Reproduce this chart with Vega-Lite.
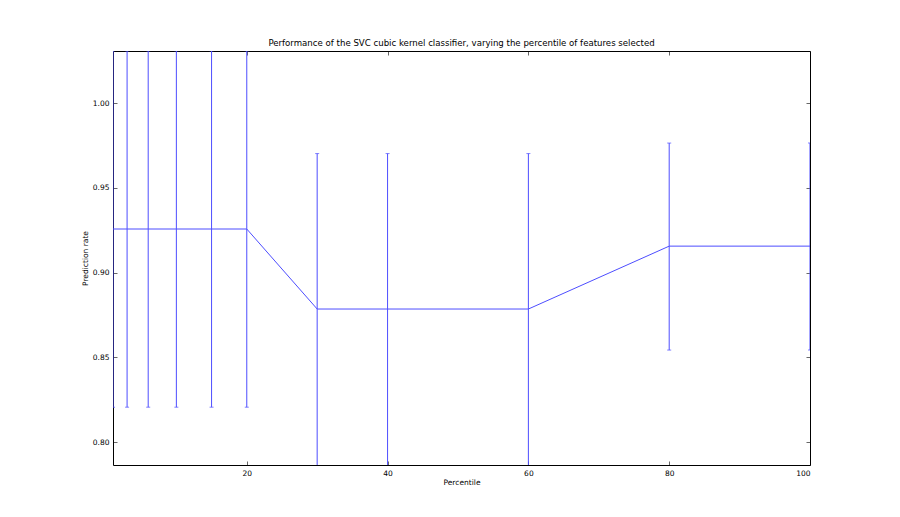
{
  "$schema": "https://vega.github.io/schema/vega-lite/v6.json",
  "autosize": "none",
  "width": 697,
  "height": 414,
  "padding": {"left": 113, "top": 51, "right": 90, "bottom": 52},
  "background": "white",
  "config": {
    "view": {"stroke": "#000000", "strokeWidth": 1},
    "font": "DejaVu Sans",
    "axis": {"grid": false, "domain": false, "labelFont": "DejaVu Sans", "labelFontSize": 7.5, "labelColor": "#000000", "titleFont": "DejaVu Sans", "titleFontSize": 7.5, "titleFontWeight": "normal", "titleColor": "#000000", "tickColor": "#000000", "tickSize": -4, "tickWidth": 0.6}
  },
  "title": {"text": "Performance of the SVC cubic kernel classifier, varying the percentile of features selected", "font": "DejaVu Sans", "fontSize": 8.6, "fontWeight": "normal", "color": "#000000", "anchor": "middle", "offset": 3},
  "data": {"values": [
    {"percentile": 1, "mean": 0.9257, "lower": 0.8206, "upper": 1.0308},
    {"percentile": 3, "mean": 0.9257, "lower": 0.8206, "upper": 1.0308},
    {"percentile": 6, "mean": 0.9257, "lower": 0.8206, "upper": 1.0308},
    {"percentile": 10, "mean": 0.9257, "lower": 0.8206, "upper": 1.0308},
    {"percentile": 15, "mean": 0.9257, "lower": 0.8206, "upper": 1.0308},
    {"percentile": 20, "mean": 0.9257, "lower": 0.8206, "upper": 1.0308},
    {"percentile": 30, "mean": 0.8785, "lower": 0.786, "upper": 0.9702},
    {"percentile": 40, "mean": 0.8785, "lower": 0.786, "upper": 0.9702},
    {"percentile": 60, "mean": 0.8785, "lower": 0.786, "upper": 0.9702},
    {"percentile": 80, "mean": 0.9156, "lower": 0.8543, "upper": 0.9764},
    {"percentile": 100, "mean": 0.9156, "lower": 0.8543, "upper": 0.9764}
  ]},
  "resolve": {"axis": {"x": "independent", "y": "independent"}},
  "layer": [
    {
      "mark": {"type": "line", "color": "#4d4dff", "strokeWidth": 1, "clip": true},
      "encoding": {
        "x": {"field": "percentile", "type": "quantitative", "scale": {"domain": [1, 100], "nice": false, "zero": false}, "axis": {"title": "Percentile", "values": [20, 40, 60, 80, 100], "labelPadding": 8, "titlePadding": 2}},
        "y": {"field": "mean", "type": "quantitative", "scale": {"domain": [0.7865, 1.0307], "nice": false, "zero": false}, "axis": {"title": "Prediction rate", "values": [0.8, 0.85, 0.9, 0.95, 1.0], "format": ".2f", "labelPadding": 8, "titlePadding": 3}}
      }
    },
    {
      "mark": {"type": "rule", "color": "#4d4dff", "strokeWidth": 1, "clip": true},
      "encoding": {
        "x": {"field": "percentile", "type": "quantitative", "axis": {"orient": "top", "values": [20, 40, 60, 80, 100], "labels": false, "title": null}},
        "y": {"field": "lower", "type": "quantitative", "axis": {"orient": "right", "values": [0.8, 0.85, 0.9, 0.95, 1.0], "labels": false, "title": null}},
        "y2": {"field": "upper"}
      }
    },
    {
      "mark": {"type": "tick", "orient": "horizontal", "color": "#4d4dff", "size": 4, "thickness": 1, "clip": true},
      "encoding": {
        "x": {"field": "percentile", "type": "quantitative", "axis": null},
        "y": {"field": "upper", "type": "quantitative", "axis": null}
      }
    },
    {
      "mark": {"type": "tick", "orient": "horizontal", "color": "#4d4dff", "size": 4, "thickness": 1, "clip": true},
      "encoding": {
        "x": {"field": "percentile", "type": "quantitative", "axis": null},
        "y": {"field": "lower", "type": "quantitative", "axis": null}
      }
    }
  ]
}
